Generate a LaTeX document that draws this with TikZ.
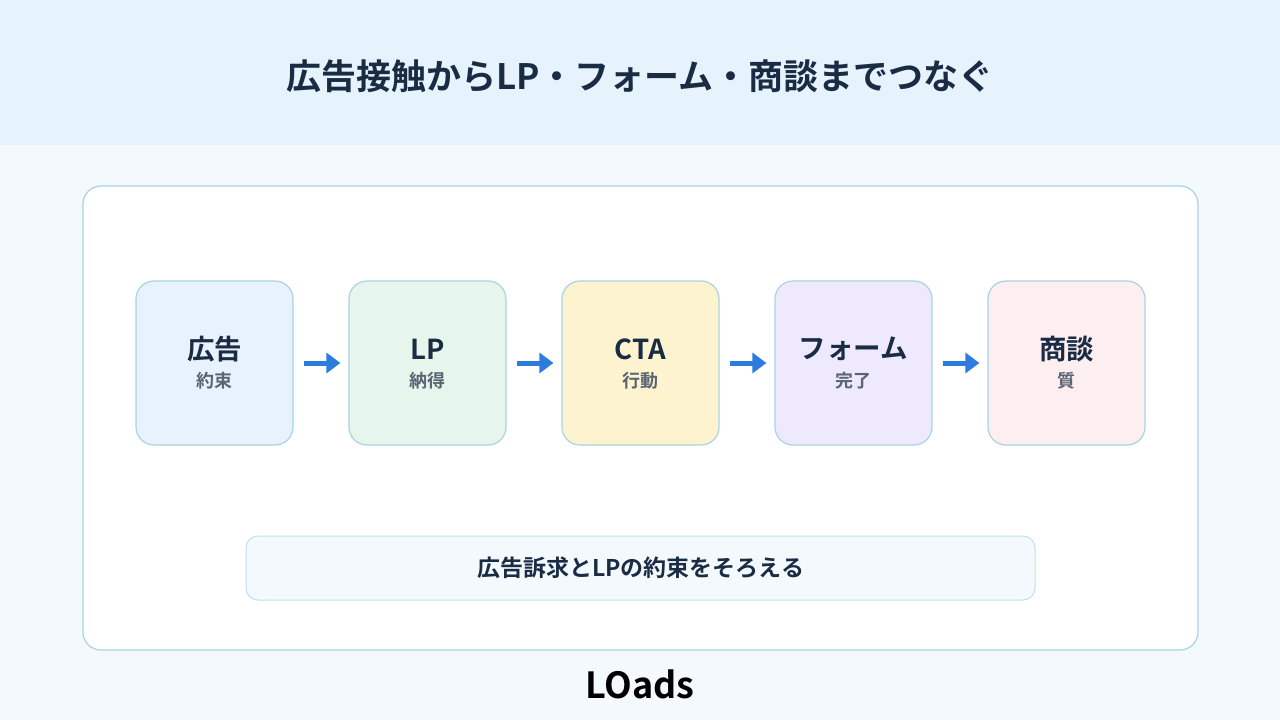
\documentclass[tikz,border=0pt]{standalone}
\usepackage{fontspec}
\setmainfont{Noto Sans CJK JP}[BoldFont={* Bold}]
\usetikzlibrary{arrows.meta}
\definecolor{band}{HTML}{E6F3FC}
\definecolor{bg}{HTML}{F3F9FD}
\definecolor{edge}{HTML}{A9D3E3}
\definecolor{ink}{HTML}{1A2B44}
\definecolor{sub}{HTML}{5A6472}
\definecolor{arr}{HTML}{2E7BE0}
\definecolor{c1}{HTML}{E8F2FC}
\definecolor{c2}{HTML}{E6F6EC}
\definecolor{c3}{HTML}{FEF3CF}
\definecolor{c4}{HTML}{EEE9FD}
\definecolor{c5}{HTML}{FDEEF0}
\begin{document}
\begin{tikzpicture}[x=1pt,y=-1pt,
  stagebox/.style={draw=edge,line width=1.2pt,rounded corners=18pt,minimum width=157pt,minimum height=164pt,inner sep=0pt},
  flow/.style={arr,line width=5pt,-{Triangle[length=14pt,width=20pt]}},
  head/.style={font=\bfseries\fontsize{27.5}{30}\selectfont,text=ink},
  subt/.style={font=\bfseries\fontsize{18}{20}\selectfont,text=sub}]
\useasboundingbox (0,0) rectangle (1280,720);
\fill[bg] (0,0) rectangle (1280,720);
\fill[band] (0,0) rectangle (1280,145);
\node[font=\bfseries\fontsize{35}{40}\selectfont,text=ink] (title) at (640,76) {広告接触からLP・フォーム・商談までつなぐ};
\draw[edge,fill=white,line width=1.2pt,rounded corners=18pt] (83,186) rectangle (1198,650);
\foreach \i/\x/\c/\a/\b in {1/214.5/c1/広告/約束,2/427.5/c2/LP/納得,3/640.5/c3/CTA/行動,4/853.5/c4/フォーム/完了,5/1066.5/c5/商談/質}{
  \node[stagebox,fill=\c] (s\i) at (\x,363) {};
  \node[head] (h\i) at (\x,349) {\a};
  \node[subt] (t\i) at (\x,381) {\b};
}
\foreach \i/\j in {1/2,2/3,3/4,4/5}{
  \coordinate (p\i) at ([xshift=10pt]s\i.east);
  \coordinate (q\i) at ([xshift=-8pt]s\j.west);
  \draw[flow] (p\i) -- (q\i);
}
\node[draw=edge!70,fill=bg,line width=1pt,rounded corners=12pt,minimum width=789pt,minimum height=64pt,font=\bfseries\fontsize{23}{26}\selectfont,text=ink] (note) at (640.5,568) {広告訴求とLPの約束をそろえる};
\node[font=\bfseries\fontsize{36}{40}\selectfont,text=black] (logo) at (640,684) {LOads};
\end{tikzpicture}
\end{document}
